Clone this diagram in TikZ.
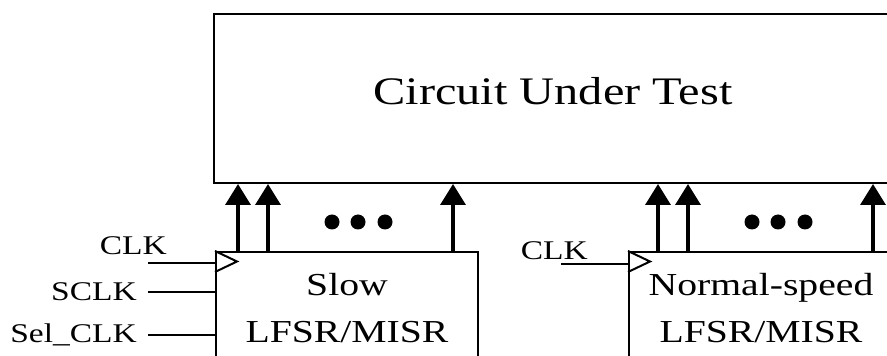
\documentclass[tikz,border=0pt]{standalone}
\usepackage{fontspec}
\setmainfont{Liberation Serif}
\newfontfamily\blkfont[FakeStretch=1.24]{Liberation Serif}
\usetikzlibrary{positioning,arrows.meta}

\begin{document}
\begin{tikzpicture}[x=1pt, y=1pt,
  bloque/.style={draw, line width=2pt, anchor=north west, inner sep=0pt, align=center,
    font=\blkfont\fontsize{32}{47}\selectfont},
  senal/.style={line width=3.5pt, -{Triangle[width=25pt,length=21pt]}},
  entrada/.style={line width=2pt},
  etiq/.style={inner sep=0pt, font=\blkfont\fontsize{27}{30}\selectfont}]
  \clip (0,0) rectangle (887,356);
  \node[bloque, minimum width=700pt, minimum height=169pt] (cut) at (213,343) {};
  \node[inner sep=0pt, anchor=base, font=\blkfont\fontsize{39}{45}\selectfont] (cutt) at (553,251) {Circuit Under Test};
  \node[bloque, minimum width=262pt, minimum height=112pt] (slow) at (215,105) {Slow\\LFSR/MISR};
  \node[bloque, minimum width=264pt, minimum height=112pt] (norm) at (628,105) {Normal-speed\\LFSR/MISR};
  \foreach \x in {238,268,453,658,688,873}
    \draw[senal] (\x,0 |- slow.north) -- (\x,0 |- cut.south);
  \foreach \x in {332,358,385,752,778,805}
    \fill (\x,134) circle (7.5);
  \draw[entrada] (slow.north west) -- ++(22,-10.5) -- ++(-22,-10.5);
  \draw[entrada] (norm.north west) -- ++(22,-10.5) -- ++(-22,-10.5);
  \coordinate (clka) at (148,93);
  \coordinate (sclk) at (148,64);
  \coordinate (selclk) at (148,21);
  \coordinate (clkb) at (561,92);
  \draw[entrada] (clka) -- (clka -| slow.west);
  \draw[entrada] (sclk) -- (sclk -| slow.west);
  \draw[entrada] (selclk) -- (selclk -| slow.west);
  \draw[entrada] (clkb) -- (clkb -| norm.west);
  \node[etiq, anchor=base east] (clkal) at (167,101) {CLK};
  \node[etiq, left=11pt of sclk] (sclkl) {SCLK};
  \node[etiq, left=11pt of selclk] (selclkl) {Sel\_CLK};
  \node[etiq, anchor=base east] (clkbl) at (588,96) {CLK};
\end{tikzpicture}
\end{document}
